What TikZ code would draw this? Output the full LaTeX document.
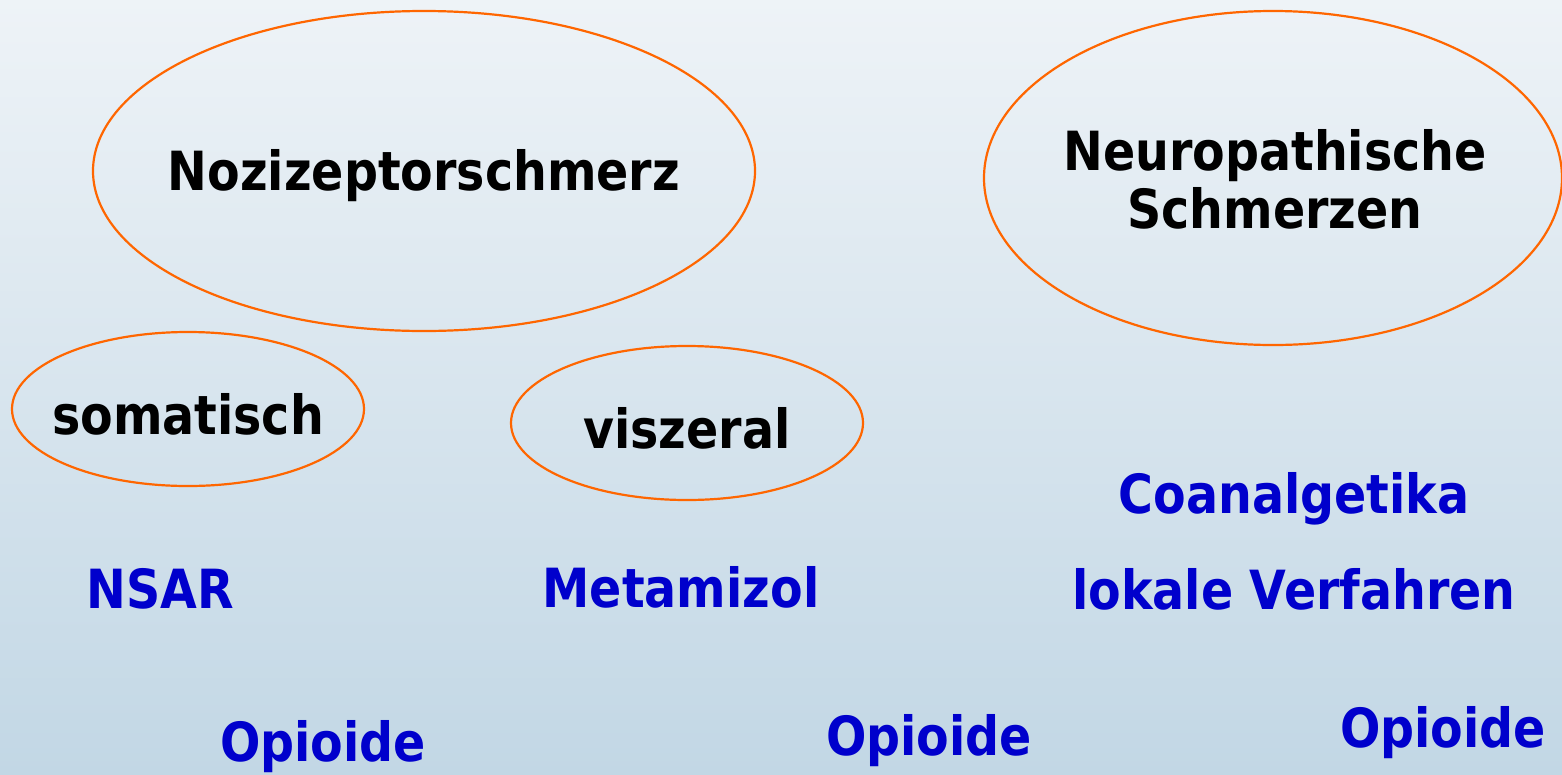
\documentclass[tikz,border=0pt]{standalone}
\usepackage{fontspec}
\setmainfont{DejaVu Sans}[FakeStretch=0.88]
\usetikzlibrary{shapes.geometric}
\definecolor{ringc}{HTML}{FF6600}
\definecolor{medc}{HTML}{0000CC}
\definecolor{bgtop}{HTML}{EEF3F7}
\definecolor{bgbot}{HTML}{C2D7E5}
\tikzset{
  ring/.style={ellipse, draw=ringc, line width=2.2pt, inner sep=0pt},
  head/.style={font=\fontsize{54}{58}\selectfont\bfseries, text=black, align=center, inner sep=0pt, yshift=-5pt},
  med/.style={font=\fontsize{54}{58}\selectfont\bfseries, text=medc, inner sep=0pt, yshift=-2pt},
}
\begin{document}
\begin{tikzpicture}[x=1pt,y=-1pt]
\shade[top color=bgtop, bottom color=bgbot] (0,0) rectangle (1562,774);
\useasboundingbox (0,0) rectangle (1562,774);
\node[ring, minimum width=662pt, minimum height=320pt] (e1) at (424,171) {};
\node[head] (t1) at (e1.center) {Nozizeptorschmerz};
\node[ring, minimum width=578pt, minimum height=334pt] (e2) at (1273,178) {};
\node[head] (t2) at (1275,174) {Neuropathische\\Schmerzen};
\node[ring, minimum width=352pt, minimum height=154pt] (e3) at (188,409) {};
\node[head] (t3) at (e3.center) {somatisch};
\node[ring, minimum width=352pt, minimum height=154pt] (e4) at (687,423) {};
\node[head] (t4) at (e4.center) {viszeral};
\node[med] (m1) at (1294,497) {Coanalgetika};
\node[med] (m2) at (160,587) {NSAR};
\node[med] (m3) at (681,585) {Metamizol};
\node[med] (m4) at (1294,587) {lokale Verfahren};
\node[med] (o1) at (323,745) {Opioide};
\node[med] (o2) at (929,739) {Opioide};
\node[med] (o3) at (1443,731) {Opioide};
\end{tikzpicture}
\end{document}
